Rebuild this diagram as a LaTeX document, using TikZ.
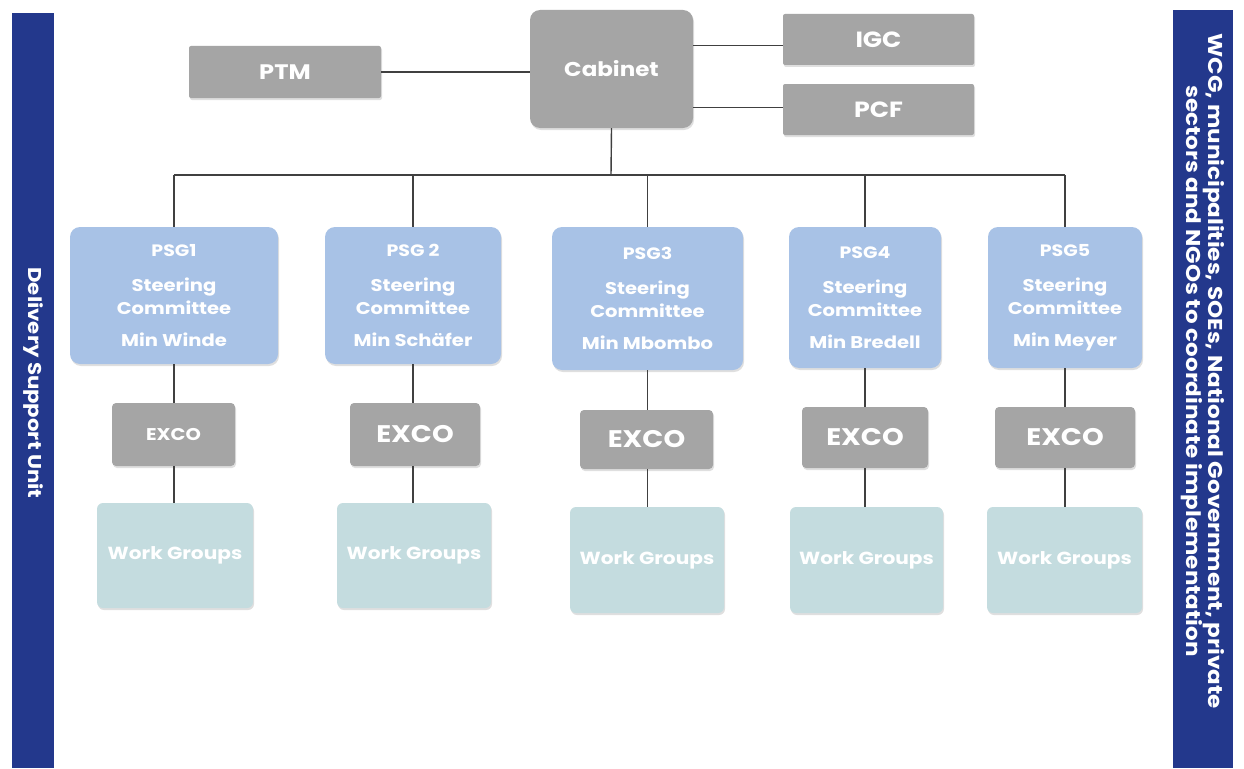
\documentclass[tikz,border=0pt]{standalone}
\usepackage{fontspec}
\setmainfont{Poppins}[FakeStretch=1.15]
\usetikzlibrary{shadows}
\definecolor{gbox}{HTML}{A5A5A5}
\definecolor{pblue}{HTML}{A8C2E6}
\definecolor{wgcol}{HTML}{C4DCDF}
\definecolor{barblue}{HTML}{23388C}
\definecolor{linecol}{HTML}{404040}
\tikzset{
  basebox/.style={draw=none, text=white, align=center, inner sep=2pt,
    drop shadow={shadow xshift=1pt, shadow yshift=-2pt, opacity=.25}},
  graybox/.style={basebox, fill=gbox, rounded corners=2pt, font=\bfseries\fontsize{22}{26}\selectfont},
  cabbox/.style={basebox, fill=gbox, rounded corners=10pt},
  psgbox/.style={basebox, fill=pblue, rounded corners=10pt, font=\bfseries\fontsize{17}{23}\selectfont},
  excobox/.style={basebox, fill=gbox, rounded corners=4pt, font=\bfseries\fontsize{24}{28}\selectfont},
  wgbox/.style={basebox, fill=wgcol, rounded corners=6pt, font=\bfseries\fontsize{17.5}{21}\selectfont},
  conn/.style={draw=linecol, line width=1.4pt},
  bar/.style={fill=barblue, draw=none},
}
\begin{document}
\begin{tikzpicture}[x=1pt,y=-1pt]
\useasboundingbox (0,0) rectangle (1244,768);
\fill[white] (0,0) rectangle (1244,768);
% side bars
\path[bar] (12,13) rectangle (54,768);
\path[bar] (1173,10) rectangle (1233,768);
\node[text=white, font=\bfseries\fontsize{18.5}{22}\selectfont, rotate=-90] (dsu) at (33,383) {Delivery Support Unit};
\node[text=white, font=\bfseries\fontsize{20}{21}\selectfont, rotate=-90, align=center] (wcg) at (1203,371) {WCG, municipalities, SOEs, National Government, private\\sectors and NGOs to coordinate implementation};
% top level
\node[graybox, minimum width=192pt, minimum height=52pt, font=\bfseries\fontsize{21}{25}\selectfont] (ptm) at (285,72) {PTM};
\node[cabbox, minimum width=163pt, minimum height=118pt, font=\bfseries\fontsize{20}{24}\selectfont] (cab) at (611.5,69) {\raisebox{2pt}{Cabinet}};
\node[graybox, minimum width=191pt, minimum height=51pt] (igc) at (878.5,39.5) {IGC};
\node[graybox, minimum width=191pt, minimum height=51pt] (pcf) at (878.5,109.5) {PCF};
% PSG boxes
\node[psgbox, minimum width=208pt, minimum height=137pt] (psg1) at (174,295.5) {{\fontsize{16.5}{23}\selectfont PSG1}\\[12pt]Steering\\Committee\\[9pt]Min Winde};
\node[psgbox, minimum width=176pt, minimum height=137pt] (psg2) at (413,295.5) {{\fontsize{16.5}{23}\selectfont PSG 2}\\[12pt]Steering\\Committee\\[9pt]Min Schäfer};
\node[psgbox, minimum width=191pt, minimum height=143pt] (psg3) at (647.5,298.5) {{\fontsize{16.5}{23}\selectfont PSG3}\\[12pt]Steering\\Committee\\[9pt]Min Mbombo};
\node[psgbox, minimum width=152pt, minimum height=141pt] (psg4) at (865,297.5) {{\fontsize{16.5}{23}\selectfont PSG4}\\[12pt]Steering\\Committee\\[9pt]Min Bredell};
\node[psgbox, minimum width=154pt, minimum height=141pt] (psg5) at (1065,297.5) {{\fontsize{16.5}{23}\selectfont PSG5}\\[12pt]Steering\\Committee\\[9pt]Min Meyer};
% EXCO boxes
\node[excobox, minimum width=123pt, minimum height=63pt, font=\bfseries\fontsize{17}{20}\selectfont] (ex1) at (173.5,434.5) {EXCO};
\node[excobox, minimum width=130pt, minimum height=63pt] (ex2) at (415,434.5) {EXCO};
\node[excobox, minimum width=133pt, minimum height=59pt] (ex3) at (646.5,439.5) {EXCO};
\node[excobox, minimum width=126pt, minimum height=61pt] (ex4) at (865,437.5) {EXCO};
\node[excobox, minimum width=140pt, minimum height=61pt] (ex5) at (1065,437.5) {EXCO};
% Work groups
\node[wgbox, minimum width=156pt, minimum height=105pt] (wg1) at (175,555.5) {Work Groups};
\node[wgbox, minimum width=154pt, minimum height=105pt] (wg2) at (414,555.5) {Work Groups};
\node[wgbox, minimum width=154pt, minimum height=106pt] (wg3) at (647,560) {Work Groups};
\node[wgbox, minimum width=153pt, minimum height=106pt] (wg4) at (866.5,560) {Work Groups};
\node[wgbox, minimum width=155pt, minimum height=106pt] (wg5) at (1064.5,560) {Work Groups};
% connectors
\coordinate (bus) at (611,175);
\draw[conn] (ptm.east) -- (ptm.east -| cab.west);
\draw[conn] ([yshift=-6pt]igc.west) -- ([yshift=-6pt]igc.west -| cab.east);
\draw[conn] ([yshift=2pt]pcf.west) -- ([yshift=2pt]pcf.west -| cab.east);
\draw[conn] (cab.south) -- (bus);
\draw[conn] (psg1.north |- bus) -- (psg5.north |- bus);
\foreach \i in {1,...,5}{
  \draw[conn] (psg\i.north) -- (psg\i.north |- bus);
  \draw[conn] (psg\i.south) -- (psg\i.south |- ex\i.north);
  \draw[conn] (psg\i.south |- ex\i.south) -- (psg\i.south |- wg\i.north);
}
\end{tikzpicture}
\end{document}
